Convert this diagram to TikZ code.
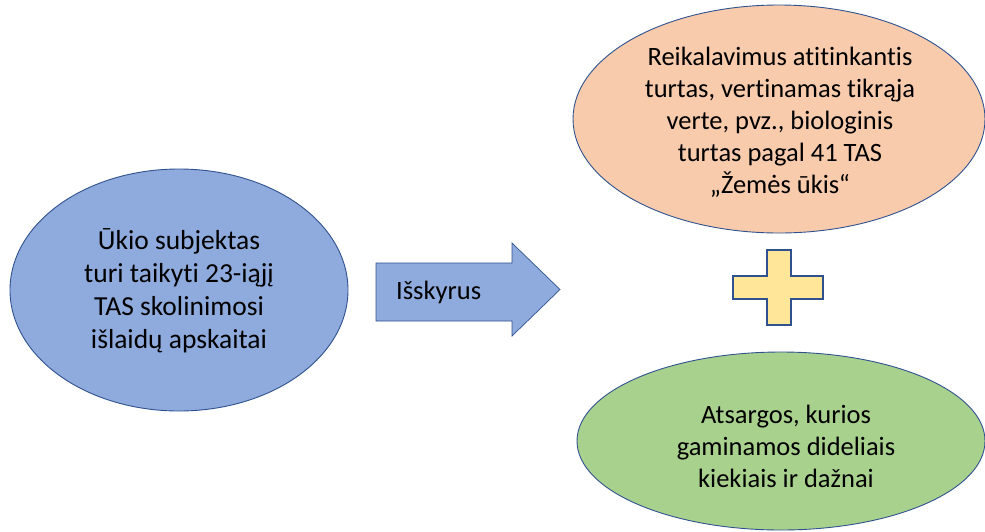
\documentclass[tikz,border=0pt]{standalone}
\usepackage{fontspec}
\setmainfont{Carlito}[Ligatures={NoCommon}]
\usetikzlibrary{shapes.geometric}
\definecolor{blueFill}{HTML}{8FAADC}
\definecolor{edgeBlue}{HTML}{2F528F}
\definecolor{peach}{HTML}{F8CBAD}
\definecolor{greenFill}{HTML}{A9D18E}
\definecolor{yellowFill}{HTML}{FFE699}
\tikzset{
  oval/.style={ellipse, draw=edgeBlue, line width=0.9pt, inner sep=0pt},
  bigtxt/.style={align=center, font=\fontsize{27.5}{33}\selectfont, inner sep=0pt},
  midtxt/.style={align=center, font=\fontsize{26.5}{32}\selectfont, inner sep=0pt},
}
\begin{document}
\begin{tikzpicture}[x=1pt,y=-1pt]
\useasboundingbox (0,0) rectangle (985,531);
% left ellipse
\node[oval, fill=blueFill, minimum width=338pt, minimum height=242pt] (left) at (179,290) {};
\node[bigtxt] (lefttext) at (179,291) {Ūkio subjektas\\turi taikyti 23-iąjį\\TAS skolinimosi\\išlaidų apskaitai};
% arrow
\draw[fill=blueFill, draw=edgeBlue, line width=0.7pt, line join=miter]
  (376,263) -- (512,263) -- (512,243) -- (560,289.5) -- (512,336) -- (512,321) -- (376,321) -- cycle;
\node[midtxt, anchor=west] (arrowtext) at (396,292) {Išskyrus};
% top ellipse
\node[oval, fill=peach, minimum width=412pt, minimum height=228pt] (top) at (779,119) {};
\node[midtxt] (toptext) at (780,122) {Reikalavimus atitinkantis\\turtas, vertinamas tikrąja\\verte, pvz., biologinis\\turtas pagal 41 TAS\\„Žemės ūkis“};
% plus
\draw[fill=yellowFill, draw=edgeBlue, line width=2.6pt, line join=miter]
  (767,250) -- (791,250) -- (791,276) -- (823,276) -- (823,299) -- (791,299) -- (791,325)
  -- (767,325) -- (767,299) -- (733,299) -- (733,276) -- (767,276) -- cycle;
% bottom ellipse
\node[oval, fill=greenFill, minimum width=408pt, minimum height=178pt] (bottom) at (781,441) {};
\node[midtxt] (bottomtext) at (786,446) {Atsargos, kurios\\gaminamos dideliais\\kiekiais ir dažnai};
\end{tikzpicture}
\end{document}
